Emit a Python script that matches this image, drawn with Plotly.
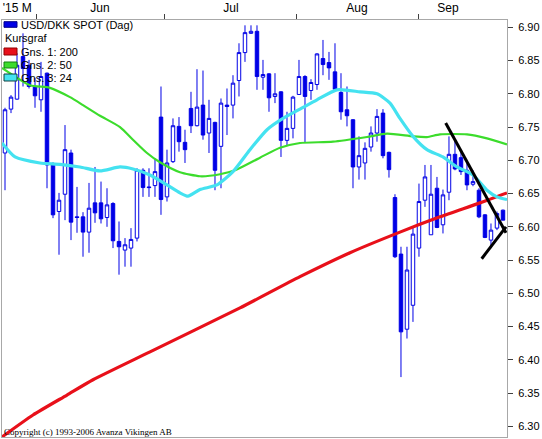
import plotly.graph_objects as go

# ---------------- data ----------------
idx = list(range(84))
opens = [6.711, 6.777, 6.792, 6.856, 6.843, 6.811, 6.791, 6.831, 6.693, 6.623,
         6.649, 6.711, 6.615, 6.615, 6.592, 6.636, 6.636, 6.614, 6.635, 6.578,
         6.565, 6.568, 6.583, 6.685, 6.660, 6.662, 6.765, 6.645, 6.698, 6.751,
         6.727, 6.778, 6.752, 6.783, 6.741, 6.757, 6.721, 6.783, 6.783, 6.820,
         6.862, 6.891, 6.894, 6.825, 6.830, 6.796, 6.803, 6.730, 6.748, 6.799,
         6.826, 6.805, 6.814, 6.853, 6.847, 6.833, 6.802, 6.776, 6.761, 6.690,
         6.696, 6.720, 6.741, 6.771, 6.712, 6.644, 6.559, 6.446, 6.482, 6.568,
         6.640, 6.588, 6.658, 6.603, 6.652, 6.709, 6.704, 6.685, 6.664, 6.655,
         6.618, 6.580, 6.598, 6.625]
highs = [6.779, 6.798, 6.861, 6.891, 6.851, 6.824, 6.848, 6.832, 6.697, 6.651,
         6.753, 6.716, 6.660, 6.622, 6.666, 6.690, 6.668, 6.658, 6.637, 6.608,
         6.583, 6.598, 6.688, 6.688, 6.688, 6.703, 6.811, 6.716, 6.763, 6.765,
         6.746, 6.803, 6.837, 6.835, 6.791, 6.758, 6.793, 6.808, 6.828, 6.876,
         6.903, 6.903, 6.903, 6.851, 6.831, 6.831, 6.804, 6.773, 6.797, 6.851,
         6.828, 6.822, 6.861, 6.881, 6.863, 6.876, 6.831, 6.811, 6.762, 6.736,
         6.727, 6.751, 6.777, 6.777, 6.713, 6.649, 6.570, 6.570, 6.600, 6.665,
         6.693, 6.693, 6.675, 6.656, 6.736, 6.731, 6.713, 6.698, 6.685, 6.658,
         6.619, 6.605, 6.623, 6.626]
lows = [6.655, 6.771, 6.791, 6.811, 6.808, 6.779, 6.773, 6.658, 6.613, 6.558,
        6.610, 6.580, 6.591, 6.555, 6.561, 6.606, 6.605, 6.600, 6.568, 6.528,
        6.540, 6.540, 6.578, 6.645, 6.645, 6.645, 6.618, 6.638, 6.696, 6.713,
        6.696, 6.741, 6.751, 6.731, 6.711, 6.655, 6.658, 6.738, 6.763, 6.796,
        6.848, 6.890, 6.806, 6.806, 6.773, 6.786, 6.705, 6.723, 6.733, 6.799,
        6.726, 6.791, 6.806, 6.828, 6.821, 6.806, 6.761, 6.751, 6.658, 6.671,
        6.671, 6.713, 6.728, 6.703, 6.674, 6.553, 6.374, 6.432, 6.457, 6.555,
        6.630, 6.588, 6.598, 6.590, 6.640, 6.685, 6.678, 6.655, 6.661, 6.613,
        6.583, 6.568, 6.595, 6.610]
closes = [6.776, 6.795, 6.843, 6.838, 6.811, 6.797, 6.826, 6.693, 6.618, 6.640,
          6.716, 6.607, 6.614, 6.592, 6.628, 6.621, 6.612, 6.633, 6.579, 6.570,
          6.573, 6.581, 6.685, 6.659, 6.659, 6.683, 6.641, 6.696, 6.752, 6.728,
          6.716, 6.752, 6.780, 6.738, 6.763, 6.685, 6.786, 6.781, 6.816, 6.862,
          6.892, 6.894, 6.826, 6.829, 6.794, 6.800, 6.730, 6.748, 6.795, 6.826,
          6.796, 6.817, 6.860, 6.844, 6.839, 6.807, 6.773, 6.767, 6.690, 6.707,
          6.718, 6.741, 6.766, 6.707, 6.686, 6.555, 6.442, 6.535, 6.589, 6.638,
          6.675, 6.649, 6.599, 6.648, 6.709, 6.687, 6.683, 6.663, 6.668, 6.615,
          6.584, 6.595, 6.620, 6.610]

ma200_x = [-0.5, 4.67, 10.33, 14.67, 24.17, 39.17, 49.17, 57.5, 65.83, 72.5, 79.17, 83.67]
ma200_y = [6.284, 6.317, 6.347, 6.370, 6.412, 6.478, 6.525, 6.561, 6.592, 6.615, 6.636, 6.651]

ma50_x = [-0.5, 4.17, 7.5, 10.83, 13.0, 15.83, 19.17, 21.33, 23.67, 25.83, 29.17, 32.5,
          35.83, 38.33, 42.5, 45.83, 49.17, 54.67, 60.33, 63.67, 68.0, 70.33, 72.5, 77.0,
          80.33, 83.67]
ma50_y = [6.839, 6.813, 6.809, 6.795, 6.783, 6.767, 6.750, 6.731, 6.711, 6.697, 6.682, 6.676,
          6.679, 6.685, 6.704, 6.719, 6.726, 6.728, 6.735, 6.740, 6.736, 6.735, 6.739, 6.739,
          6.733, 6.724]

ma24_x = [-0.5, 1.67, 5.83, 9.17, 12.5, 15.83, 19.17, 21.33, 24.17, 27.0, 29.17, 30.5, 32.5,
          35.33, 38.0, 40.83, 43.67, 46.33, 49.17, 52.0, 55.33, 59.17, 62.0, 64.17, 65.83,
          68.0, 70.33, 73.0, 75.33, 78.0, 80.33, 82.0, 83.67]
ma24_y = [6.726, 6.705, 6.696, 6.694, 6.690, 6.684, 6.690, 6.687, 6.678, 6.663, 6.651, 6.646,
          6.656, 6.663, 6.683, 6.716, 6.746, 6.763, 6.777, 6.791, 6.806, 6.803, 6.800, 6.786,
          6.763, 6.736, 6.716, 6.705, 6.690, 6.678, 6.655, 6.645, 6.641]

trend1_x = [73.45, 83.5]
trend1_y = [6.756, 6.591]
trend2_x = [79.45, 83.5]
trend2_y = [6.552, 6.600]

month_bounds = [5.28, 26.55, 48.6, 69.0]
month_label_pos = [2.05, 15.83, 37.67, 58.67, 73.83]
month_labels = ["'15 M", "Jun", "Jul", "Aug", "Sep"]

y_ticks = [6.30, 6.35, 6.40, 6.45, 6.50, 6.55, 6.60, 6.65, 6.70, 6.75, 6.80, 6.85, 6.90]
y_ticktext = ["%.2f" % v for v in y_ticks]

legend_labels = ["USD/DKK SPOT (Dag)", "Kursgraf", "Gns. 1: 200", "Gns. 2: 50", "Gns. 3: 24"]
copyright_text = "Copyright (c) 1993-2006 Avanza Vikingen AB"

# ---------------- styles ----------------
BLUE = "#0000e6"
RED = "#e8101a"
GREEN = "#3cdc2c"
CYAN = "#44e2f0"

fig = go.Figure()
fig.add_trace(go.Candlestick(
    x=idx, open=opens, high=highs, low=lows, close=closes,
    increasing=dict(line=dict(color=BLUE, width=1), fillcolor="white"),
    decreasing=dict(line=dict(color=BLUE, width=1), fillcolor=BLUE),
    whiskerwidth=0, showlegend=False, hoverinfo="skip"))

fig.add_trace(go.Scatter(x=ma200_x, y=ma200_y, mode="lines",
                         line=dict(color=RED, width=3.2, shape="spline", smoothing=0.6),
                         showlegend=False, hoverinfo="skip"))
fig.add_trace(go.Scatter(x=ma50_x, y=ma50_y, mode="lines",
                         line=dict(color=GREEN, width=2.2, shape="spline", smoothing=0.6),
                         showlegend=False, hoverinfo="skip"))
fig.add_trace(go.Scatter(x=ma24_x, y=ma24_y, mode="lines",
                         line=dict(color=CYAN, width=3.2, shape="spline", smoothing=0.6),
                         showlegend=False, hoverinfo="skip"))
fig.add_trace(go.Scatter(x=trend1_x, y=trend1_y, mode="lines",
                         line=dict(color="black", width=3), showlegend=False, hoverinfo="skip"))
fig.add_trace(go.Scatter(x=trend2_x, y=trend2_y, mode="lines",
                         line=dict(color="black", width=3), showlegend=False, hoverinfo="skip"))

W, H = 542, 439
L, R, T, B = 2, 35, 20, 2
x0p, x1p, y0p, y1p = L, W - R, T, H - B


def px(xpix):
    return (xpix - x0p) / (x1p - x0p)


def py(ypix):
    return (y1p - ypix) / (y1p - y0p)


FONT = "Liberation Sans, Arial, sans-serif"

fig.update_layout(
    width=W, height=H,
    margin=dict(l=L, r=R, t=T, b=B, pad=0, autoexpand=False),
    paper_bgcolor="white", plot_bgcolor="white",
    showlegend=False, boxgap=0.17,
    font=dict(family=FONT, size=11, color="black"),
    xaxis=dict(
        range=[-0.5, 83.67], side="top", automargin=False,
        rangeslider=dict(visible=False),
        tickmode="array", tickvals=month_label_pos, ticktext=month_labels,
        ticks="", ticklabelstandoff=2, ticklabeloverflow="allow",
        tickfont=dict(family=FONT, size=12, color="black"),
        minor=dict(tickmode="array", tickvals=month_bounds, ticks="outside",
                   ticklen=5, tickcolor="#404040", tickwidth=1, showgrid=False),
        showgrid=False, zeroline=False,
        showline=True, mirror=True, linecolor="#a8a8a8", linewidth=1,
    ),
    yaxis=dict(
        range=[6.2839, 6.911], side="right", automargin=False,
        tickmode="array", tickvals=y_ticks, ticktext=y_ticktext,
        ticks="outside", ticklen=5, tickcolor="#404040", tickwidth=1,
        ticklabelstandoff=3, ticklabeloverflow="allow",
        tickfont=dict(family=FONT, size=11, color="black"),
        showgrid=False, zeroline=False,
        showline=True, mirror=True, linecolor="#a8a8a8", linewidth=1,
    ),
)

# legend drawn manually (swatches + labels)
swatches = [
    (BLUE, "#00008a", 21.7, 27.3),
    (RED, "#900000", 48.0, 55.0),
    (GREEN, "#108010", 62.0, 68.0),
    (CYAN, "#104040", 74.0, 81.0),
]
for fill, edge, ya, yb in swatches:
    fig.add_shape(type="rect", xref="paper", yref="paper",
                  x0=px(4), x1=px(17), y0=py(yb), y1=py(ya),
                  fillcolor=fill, line=dict(color=edge, width=1))

legend_pos = [(20, 25.0), (4, 38.5), (20, 51.7), (20, 65.0), (20, 77.5)]
for text, (lx, ly) in zip(legend_labels, legend_pos):
    fig.add_annotation(text=text, xref="paper", yref="paper", x=px(lx), y=py(ly),
                       xanchor="left", yanchor="middle", showarrow=False,
                       font=dict(family=FONT, size=11, color="black"), borderpad=0)

fig.add_annotation(text=copyright_text, xref="paper", yref="paper", x=px(3), y=py(432),
                   xanchor="left", yanchor="middle", showarrow=False, borderpad=0,
                   font=dict(family="Liberation Serif, Times New Roman, serif", size=9, color="black"))

fig.write_html("out.html", config={"displayModeBar": False},
               post_script="document.body.style.margin='0';document.body.style.padding='0';")
